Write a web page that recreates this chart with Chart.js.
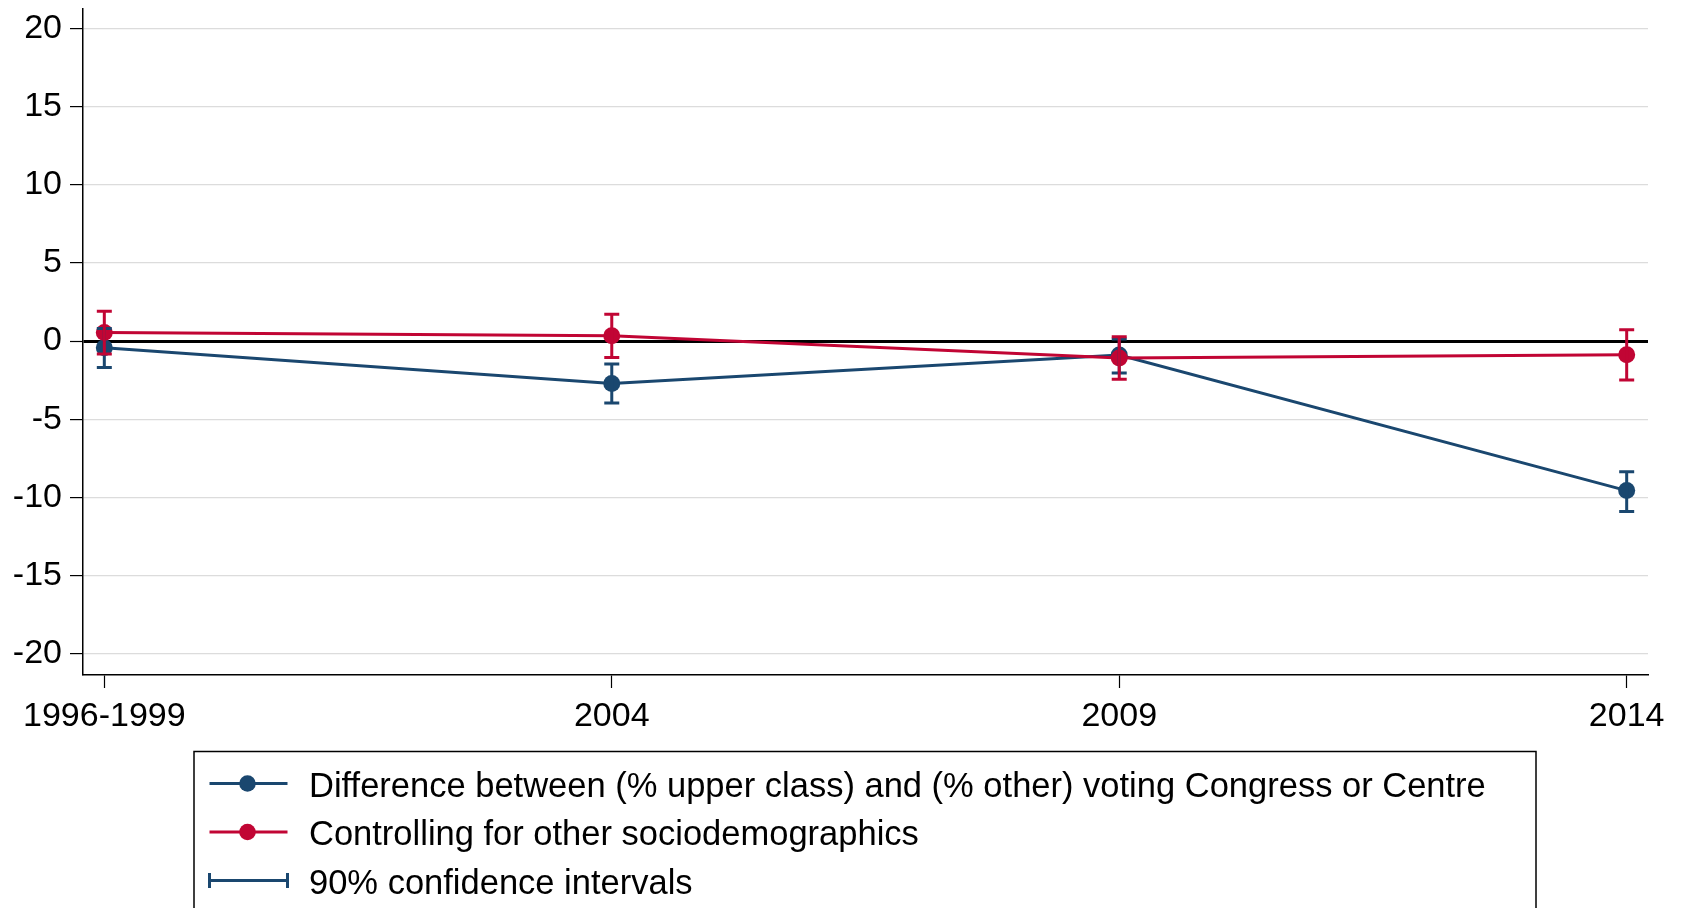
<!DOCTYPE html>
<html>
<head>
<meta charset="utf-8">
<script src="https://cdn.jsdelivr.net/npm/chart.js@4.4.1/dist/chart.umd.min.js"></script>
<style>
  html, body { margin: 0; padding: 0; background: #fff; }
  canvas { display: block; }
</style>
</head>
<body>
<canvas id="c" width="1681" height="908"></canvas>
<script>
// ---- data ----
const categories = ['1996-1999', '2004', '2009', '2014'];
const diffLabel = 'Difference between (% upper class) and (% other) voting Congress or Centre';
const diffValues = [-0.43, -2.72, -0.9, -9.57];
const diffLow    = [-1.7, -3.97, -2.05, -10.9];
const diffHigh   = [0.8, -1.47, 0.13, -8.36];
const ctrlLabel = 'Controlling for other sociodemographics';
const ctrlValues = [0.55, 0.34, -1.09, -0.87];
const ctrlLow    = [-0.83, -1.05, -2.45, -2.5];
const ctrlHigh   = [1.9, 1.71, 0.28, 0.72];
const ciLabel = '90% confidence intervals';
const yTicks = [-20, -15, -10, -5, 0, 5, 10, 15, 20];

const BLUE = '#1a476f';
const RED = '#c10534';
const FONT = "'Liberation Sans', Arial, Helvetica, sans-serif";

Chart.defaults.font.family = FONT;
Chart.defaults.color = '#000';

const toPts = arr => arr.map((v, i) => ({ x: i, y: v }));

const errorBars = {
  id: 'errorBars',
  afterDatasetsDraw(chart) {
    const ctx = chart.ctx;
    const xs = chart.scales.x, ys = chart.scales.y;
    ctx.save();
    [0, 1].forEach(di => {
      const ds = chart.data.datasets[di];
      ctx.strokeStyle = ds.borderColor;
      ctx.lineWidth = 3;
      ds.ciLow.forEach((lo, i) => {
        const hi = ds.ciHigh[i];
        const x = xs.getPixelForValue(i);
        const y1 = ys.getPixelForValue(lo);
        const y2 = ys.getPixelForValue(hi);
        ctx.beginPath();
        ctx.moveTo(x, y1); ctx.lineTo(x, y2);
        ctx.moveTo(x - 7.5, y1); ctx.lineTo(x + 7.5, y1);
        ctx.moveTo(x - 7.5, y2); ctx.lineTo(x + 7.5, y2);
        ctx.stroke();
      });
    });
    ctx.restore();
  }
};

const legendBox = {
  id: 'legendBox',
  afterDraw(chart) {
    const ctx = chart.ctx;
    const ds = chart.data.datasets;
    ctx.save();
    ctx.strokeStyle = '#000';
    ctx.lineWidth = 1.5;
    ctx.strokeRect(194, 751.5, 1342, 220);
    ctx.font = '34.5px ' + FONT;
    ctx.fillStyle = '#000';
    ctx.textBaseline = 'alphabetic';
    ctx.textAlign = 'left';
    const rows = [783.5, 832, 880.5];
    [ds[0], ds[1]].forEach((d, k) => {
      const y = rows[k];
      ctx.strokeStyle = d.borderColor;
      ctx.lineWidth = 3;
      ctx.beginPath(); ctx.moveTo(209.5, y); ctx.lineTo(287.5, y); ctx.stroke();
      ctx.fillStyle = d.borderColor;
      ctx.beginPath(); ctx.arc(247.5, y, 8.3, 0, Math.PI * 2); ctx.fill();
      ctx.fillStyle = '#000';
      ctx.fillText(d.label, 309, y + 13);
    });
    const y = rows[2];
    ctx.strokeStyle = BLUE;
    ctx.lineWidth = 3;
    ctx.beginPath();
    ctx.moveTo(209.5, y); ctx.lineTo(287.5, y);
    ctx.moveTo(209.5, y - 7.5); ctx.lineTo(209.5, y + 7.5);
    ctx.moveTo(287.5, y - 7.5); ctx.lineTo(287.5, y + 7.5);
    ctx.stroke();
    ctx.fillStyle = '#000';
    ctx.fillText(ciLabel, 309, y + 13);
    ctx.restore();
  }
};

new Chart(document.getElementById('c'), {
  type: 'line',
  data: {
    datasets: [
      {
        label: diffLabel,
        data: toPts(diffValues),
        ciLow: diffLow, ciHigh: diffHigh,
        borderColor: BLUE, backgroundColor: BLUE,
        pointBackgroundColor: BLUE, pointBorderWidth: 0,
        pointRadius: 8.5, borderWidth: 3, tension: 0, order: 1
      },
      {
        label: ctrlLabel,
        data: toPts(ctrlValues),
        ciLow: ctrlLow, ciHigh: ctrlHigh,
        borderColor: RED, backgroundColor: RED,
        pointBackgroundColor: RED, pointBorderWidth: 0,
        pointRadius: 8.5, borderWidth: 3, tension: 0, order: 0
      }
    ]
  },
  options: {
    responsive: false,
    animation: false,
    devicePixelRatio: 1,
    layout: { padding: { top: 8, right: 33, left: 0, bottom: 0 } },
    plugins: { legend: { display: false }, tooltip: { enabled: false } },
    scales: {
      x: {
        type: 'linear',
        min: -0.042, max: 3.042,
        border: { display: true, color: '#000', width: 1.5 },
        grid: { drawOnChartArea: false, drawTicks: true, tickLength: 13, tickColor: '#000', tickWidth: 1.2 },
        ticks: {
          stepSize: 1, includeBounds: false, autoSkip: false, maxRotation: 0,
          padding: 8, font: { size: 34 }, color: '#000',
          callback: v => (categories[v] !== undefined ? categories[v] : '')
        },
        afterFit(s) { s.height = 233; s.paddingLeft = 0; s.paddingRight = 0; }
      },
      y: {
        type: 'linear',
        min: -21.37, max: 21.28,
        border: { display: true, color: '#000', width: 1.5 },
        grid: {
          drawTicks: true, tickLength: 13, tickColor: '#000', tickWidth: 1.2,
          color: c => (c.tick && c.tick.value === 0 ? '#000' : '#dcdcdc'),
          lineWidth: c => (c.tick && c.tick.value === 0 ? 3 : 1.2)
        },
        afterBuildTicks(s) { s.ticks = yTicks.map(v => ({ value: v })); },
        ticks: { padding: 8, font: { size: 34 }, color: '#000', autoSkip: false },
        afterFit(s) { s.width = 83; s.paddingTop = 0; s.paddingBottom = 0; }
      }
    }
  },
  plugins: [errorBars, legendBox]
});
</script>
</body>
</html>
